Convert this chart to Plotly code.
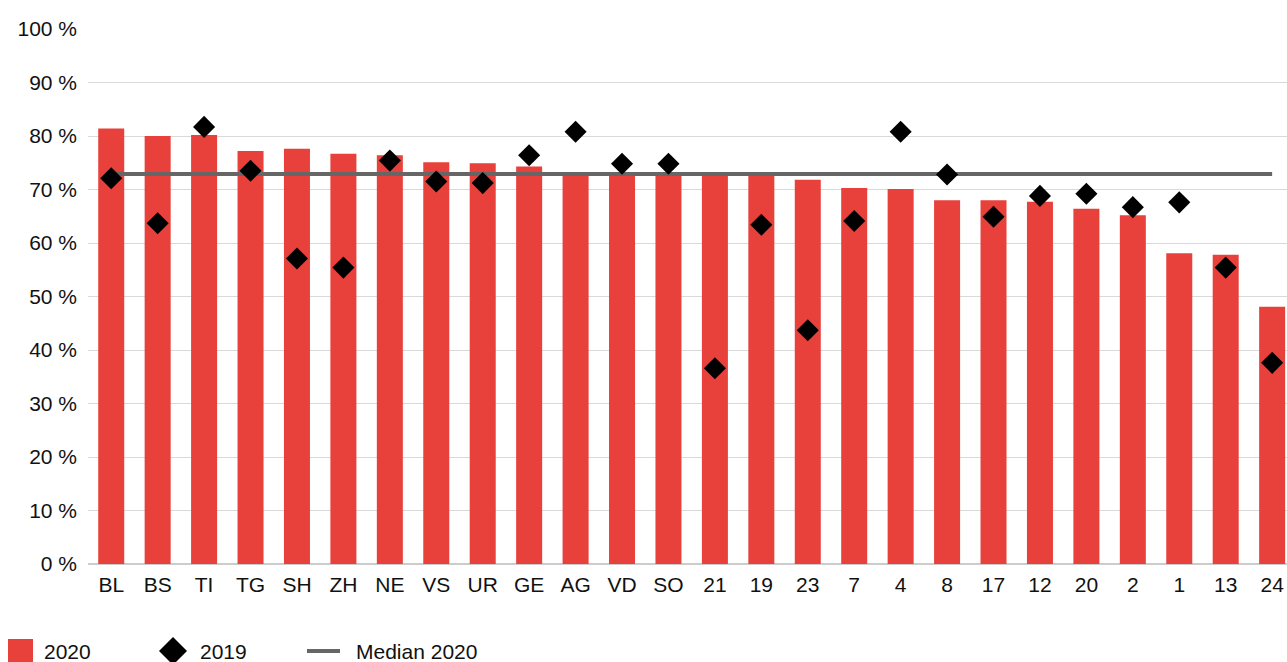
import plotly.graph_objects as go

# Regions (cantons and anonymised regions), sorted by 2020 share
categories = ["BL", "BS", "TI", "TG", "SH", "ZH", "NE", "VS", "UR", "GE", "AG", "VD", "SO",
              "21", "19", "23", "7", "4", "8", "17", "12", "20", "2", "1", "13", "24"]

# Share in percent, 2020 (bars)
values_2020 = [81.4, 80.0, 80.2, 77.2, 77.6, 76.7, 76.4, 75.1, 74.9, 74.3, 73.0, 72.9, 72.9,
               72.9, 72.8, 71.8, 70.3, 70.1, 68.0, 68.0, 67.7, 66.4, 65.2, 58.1, 57.8, 48.1]

# Share in percent, 2019 (diamonds)
values_2019 = [72.1, 63.7, 81.7, 73.5, 57.1, 55.4, 75.4, 71.5, 71.2, 76.4, 80.8, 74.8, 74.8,
               36.6, 63.4, 43.7, 64.1, 80.8, 72.8, 64.9, 68.8, 69.2, 66.7, 67.6, 55.4, 37.6]

median_2020 = 72.9

y_ticks = [0, 10, 20, 30, 40, 50, 60, 70, 80, 90, 100]
y_tick_labels = ["0 %", "10 %", "20 %", "30 %", "40 %", "50 %",
                 "60 %", "70 %", "80 %", "90 %", "100 %"]

RED = "#e8403a"
GREY_LINE = "#666666"
FONT = "Liberation Sans, Arial, Helvetica, sans-serif"

W, H = 1287, 662
M_L, M_R, M_T, M_B = 88, 0, 29, 98

fig = go.Figure()

fig.add_trace(go.Bar(
    x=categories, y=values_2020, name="2020",
    marker=dict(color=RED, line=dict(width=0)),
    showlegend=False, hoverinfo="x+y",
))

fig.add_trace(go.Scatter(
    x=categories, y=[median_2020] * len(categories), name="Median 2020",
    mode="lines", line=dict(color=GREY_LINE, width=4),
    showlegend=False,
))

fig.add_trace(go.Scatter(
    x=categories, y=values_2019, name="2019",
    mode="markers", marker=dict(symbol="diamond", size=17, color="black"),
    showlegend=False,
))

# Helpers to place legend items in pixel terms on the paper
plot_w = W - M_L - M_R
plot_h = H - M_T - M_B


def px_x(px):
    return (px - M_L) / plot_w


def px_y(py):
    return (H - M_B - py) / plot_h


legend_y = 651
shapes = [
    # 2020 swatch
    dict(type="rect", xref="paper", yref="paper",
         x0=px_x(8), x1=px_x(33), y0=px_y(legend_y + 12), y1=px_y(legend_y - 12),
         fillcolor=RED, line=dict(width=0)),
    # 2019 diamond
    dict(type="path", xref="paper", yref="paper", xsizemode="pixel", ysizemode="pixel",
         xanchor=px_x(173), yanchor=px_y(legend_y),
         path="M -14 0 L 0 14 L 14 0 L 0 -14 Z",
         fillcolor="black", line=dict(width=0)),
    # Median line sample
    dict(type="line", xref="paper", yref="paper",
         x0=px_x(307), x1=px_x(340), y0=px_y(legend_y), y1=px_y(legend_y),
         line=dict(color=GREY_LINE, width=4)),
]

annotations = []
for label, x0 in [("2020", 42), ("2019", 198), ("Median 2020", 354)]:
    annotations.append(dict(
        text=label, xref="paper", yref="paper", x=px_x(x0), y=px_y(legend_y),
        xanchor="left", yanchor="middle", showarrow=False,
        font=dict(family=FONT, size=21, color="#111111"),
    ))

fig.update_layout(
    width=W, height=H,
    margin=dict(l=M_L, r=M_R, t=M_T, b=M_B, pad=0),
    paper_bgcolor="white", plot_bgcolor="white",
    bargap=0.44,
    font=dict(family=FONT, size=21, color="#111111"),
    showlegend=False,
    shapes=shapes,
    annotations=annotations,
    xaxis=dict(
        type="category", range=[-0.5, 25.32],
        showgrid=False, showline=False, zeroline=False,
        ticks="", ticklabelstandoff=6,
        tickfont=dict(family=FONT, size=21, color="#111111"),
        fixedrange=True,
    ),
    yaxis=dict(
        range=[0, 100], tickmode="array", tickvals=y_ticks, ticktext=y_tick_labels,
        showgrid=True, gridcolor="#d9d9d9", gridwidth=1,
        zeroline=True, zerolinecolor="#cccccc", zerolinewidth=2,
        showline=False, ticks="", ticklabelstandoff=10,
        tickfont=dict(family=FONT, size=21, color="#111111"),
        fixedrange=True,
    ),
)

fig.write_html("out.html", config={"displayModeBar": False})
